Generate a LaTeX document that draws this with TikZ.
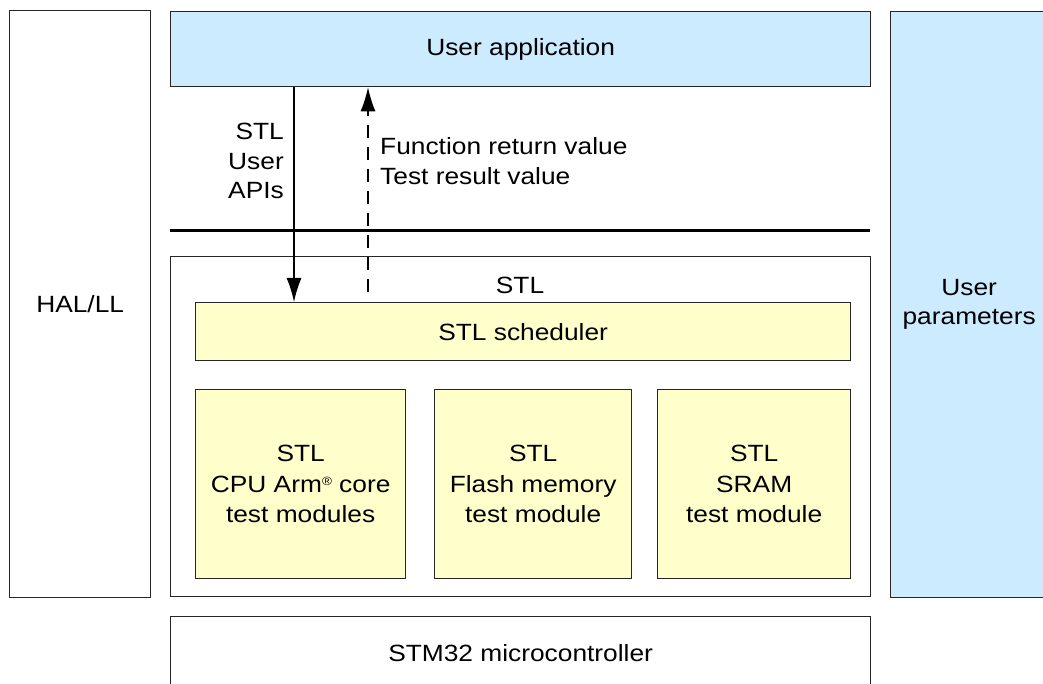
\documentclass[tikz,border=0pt]{standalone}
\usepackage{fontspec}
\setmainfont{Liberation Sans}[FakeStretch=1.12]
\usetikzlibrary{positioning,arrows.meta}
\definecolor{appblue}{HTML}{CCEBFF}
\definecolor{stlyellow}{HTML}{FFFFCC}
\tikzset{x=1pt, y=-1pt,
  box/.style={draw=black!85, line width=1.3pt, rectangle, inner sep=0pt, anchor=north west, align=center,
    font=\fontsize{23.5}{29}\selectfont},
  bluebox/.style={box, fill=appblue},
  module/.style={box, fill=stlyellow, font=\fontsize{23.5}{30.5}\selectfont},
  call/.style={line width=1.3pt, -{Latex[length=24pt,width=15pt]}},
  ret/.style={call, dash pattern=on 13pt off 9pt},
  lbl/.style={font=\fontsize{23.5}{29.5}\selectfont, inner sep=0pt}}

\begin{document}
\begin{tikzpicture}
	\useasboundingbox (0,0) rectangle (1043,684);

	\node[box] (hal) at (9,10) [minimum width=141pt, minimum height=587pt] {HAL/LL};
	\node[bluebox] (app) at (170,11) [minimum width=700pt, minimum height=75pt] {User application};
	\node[bluebox] (params) at (890,11) [minimum width=157pt, minimum height=586pt] {User\\parameters};

	\node[box] (stl) at (170,256) [minimum width=700pt, minimum height=340pt] {};
	\node[lbl] (stllbl) at (520,285) {STL};
	\node[module] (sched) at (195,302) [minimum width=655pt, minimum height=58pt] {STL scheduler};
	\node[module] (cpu) at (195,389) [minimum width=210pt, minimum height=189pt] {STL\\CPU Arm{\raisebox{0.55ex}{\fontsize{12}{12}\selectfont ®}} core\\test modules};
	\node[module] (flash) at (434,389) [minimum width=197pt, minimum height=189pt] {STL\\Flash memory\\test module};
	\node[module] (sram) at (657,389) [minimum width=193pt, minimum height=189pt] {STL\\SRAM\\test module};

	\node[box] (mcu) at (170,616) [minimum width=700pt, minimum height=72pt] {STM32 microcontroller};

	\node[lbl, align=right, anchor=east] (apis) at (284,161) {STL\\User\\APIs};
	\node[lbl, align=left, anchor=west] (retval) at (380,161) {Function return value\\Test result value};

	\coordinate (callx) at (294,0);
	\coordinate (retx) at (368,0);
	\coordinate (sepl) at (170,231);
	\coordinate (sepr) at (870,231);

	\draw[line width=3pt] (sepl) -- (sepr);
	\draw[call] (app.south -| callx) -- (sched.north -| callx);
	\draw[ret] ([yshift=10pt]sched.north -| retx) -- (app.south -| retx);
\end{tikzpicture}
\end{document}
